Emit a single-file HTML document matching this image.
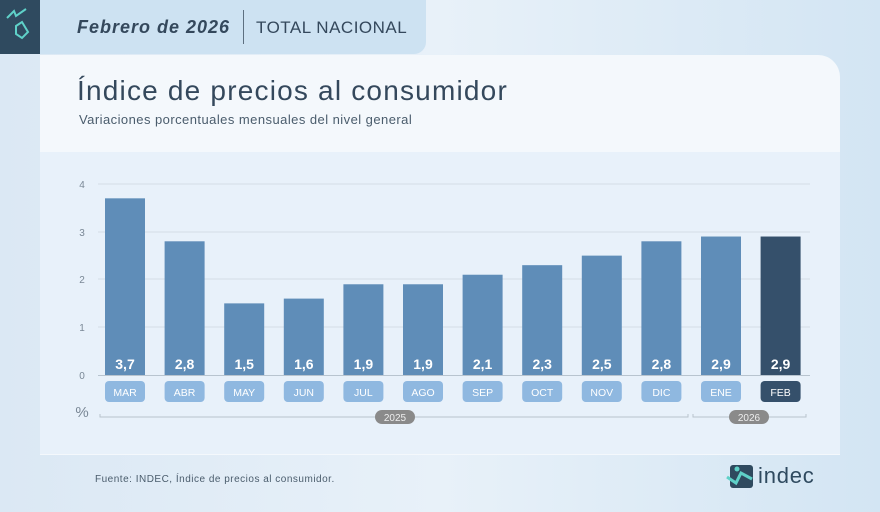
<!DOCTYPE html>
<html><head><meta charset="utf-8"><style>
body{margin:0;width:880px;height:512px;overflow:hidden;background:#dce9f4;font-family:"Liberation Sans",sans-serif;position:relative}
div{position:absolute;white-space:nowrap}
</style></head><body>
<div style="left:0;top:0;width:880px;height:512px;background:linear-gradient(90deg,#dbe8f4,#e8f1f9 50%,#d3e5f3)"></div>
<div style="left:0;top:0;width:40px;height:54px;background:#2f4a5f"></div>
<svg style="position:absolute;left:4px;top:6px" width="30" height="42"><path d="M3 12 L10 5 L12 10 L22 3" stroke="#5fd1c8" stroke-width="2" fill="none"/><path d="M12 20 L18 16 L24 26 L18 32 L12 28 Z" stroke="#5fd1c8" stroke-width="2" fill="none"/></svg>
<div style="left:40px;top:0;width:386px;height:54px;background:#cde2f2;border-radius:0 0 12px 0"></div>
<div style="left:77px;top:17px;font-size:18px;font-weight:bold;font-style:italic;color:#34485c;letter-spacing:1px">Febrero de 2026</div>
<div style="left:243px;top:10px;width:1px;height:34px;background:#5d6f80"></div>
<div style="left:256px;top:18px;font-size:17px;color:#34485c;letter-spacing:0.5px">TOTAL NACIONAL</div>
<div style="left:40px;top:55px;width:800px;height:400px;background:#f4f8fc;border-radius:0 22px 0 0"></div>
<div style="left:77px;top:75px;font-size:28px;color:#34485c;letter-spacing:1.2px">Índice de precios al consumidor</div>
<div style="left:79px;top:112px;font-size:13px;color:#4a5c6c;letter-spacing:0.45px">Variaciones porcentuales mensuales del nivel general</div>
<div style="left:40px;top:152px;width:800px;height:302px;background:#e8f1fa"></div>
<svg style="position:absolute;left:0;top:0" width="880" height="512" font-family="Liberation Sans, sans-serif">
<g stroke="#d3dde7" stroke-width="1"><line x1="98" x2="810" y1="184" y2="184"/><line x1="98" x2="810" y1="232" y2="232"/><line x1="98" x2="810" y1="279" y2="279"/><line x1="98" x2="810" y1="327" y2="327"/></g>
<g font-size="10" fill="#7a8896" text-anchor="middle"><text x="82" y="188">4</text><text x="82" y="236">3</text><text x="82" y="283">2</text><text x="82" y="331">1</text><text x="82" y="379">0</text></g>
<g id="b"></g>
<line x1="98" x2="810" y1="375.5" y2="375.5" stroke="#b8c4cf"/>
<text x="82" y="417" font-size="15" fill="#7a8896" text-anchor="middle">%</text>
<path d="M100 414 V417 H688 V414 M693 414 V417 H806 V414" stroke="#b9c3cc" fill="none"/>
<rect x="375" y="410" width="40" height="14" rx="7" fill="#8a8a8a"/><text x="395" y="421" font-size="10" fill="#eee" text-anchor="middle">2025</text>
<rect x="729" y="410" width="40" height="14" rx="7" fill="#8a8a8a"/><text x="749" y="421" font-size="10" fill="#eee" text-anchor="middle">2026</text>
<g transform="translate(728,465)"><rect x="2" y="0" width="23" height="23" rx="3" fill="#2f4a5f"/><path d="M-1 12 L8 18 L13 8 L24 14" stroke="#5fd1c8" stroke-width="3" fill="none"/><circle cx="9" cy="4" r="2.5" fill="#5fd1c8"/><text x="30" y="18" font-size="22" fill="#2f4a5f" letter-spacing="0.8">indec</text></g>
</svg>
<div style="left:95px;top:474px;font-size:10px;color:#4a5c6c;letter-spacing:0.5px">Fuente: INDEC, Índice de precios al consumidor.</div>
<script>
var v=[3.7,2.8,1.5,1.6,1.9,1.9,2.1,2.3,2.5,2.8,2.9,2.9],m=["MAR","ABR","MAY","JUN","JUL","AGO","SEP","OCT","NOV","DIC","ENE","FEB"],s="";
for(var i=0;i<12;i++){var x=105+i*59.6,h=v[i]*47.75,d=i==11,c=d?"#35506b":"#5f8db8";
s+='<rect x="'+x+'" y="'+(375-h)+'" width="40" height="'+h+'" fill="'+c+'"/>';
s+='<text x="'+(x+20)+'" y="369" font-size="14" font-weight="bold" fill="#fff" text-anchor="middle">'+String(v[i]).replace(".",",")+'</text>';
s+='<rect x="'+x+'" y="381" width="40" height="21" rx="4" fill="'+(d?"#35506b":"#8fb8e0")+'"/>';
s+='<text x="'+(x+20)+'" y="396" font-size="10.5" fill="#fff" text-anchor="middle">'+m[i]+'</text>';}
document.getElementById("b").innerHTML=s;
</script>
</body></html>
